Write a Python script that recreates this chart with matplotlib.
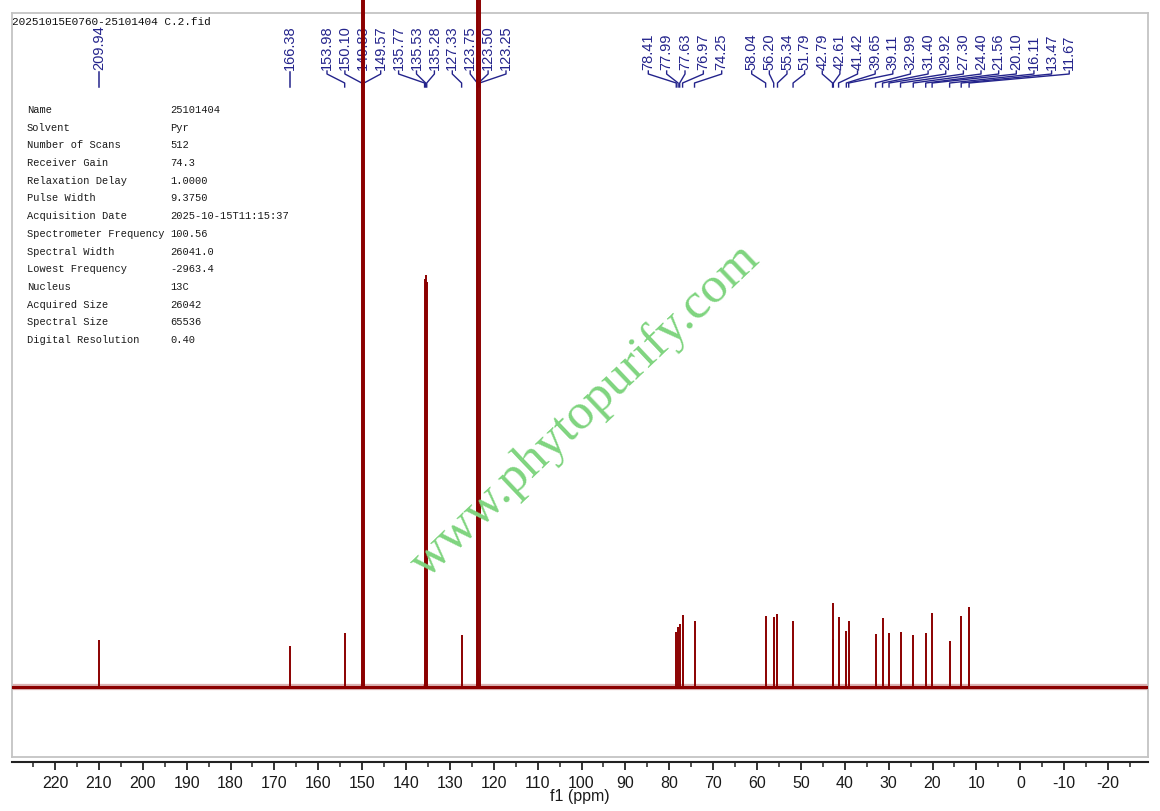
import matplotlib
matplotlib.use("Agg")
import matplotlib.pyplot as plt
from matplotlib.ticker import MultipleLocator

plt.rcParams['axes.unicode_minus'] = False
plt.rcParams['font.family'] = ['Liberation Sans', 'DejaVu Sans']

# ---------------- data ----------------
title = "20251015E0760-25101404 C.2.fid"

shifts = [209.94, 166.38,
          153.98, 150.10, 149.83, 149.57, 135.77, 135.53, 135.28, 127.33, 123.75, 123.50, 123.25,
          78.41, 77.99, 77.63, 76.97, 74.25,
          58.04, 56.20, 55.34, 51.79, 42.79, 42.61, 41.42, 39.65, 39.11, 32.99, 31.40,
          29.92, 27.30, 24.40, 21.56, 20.10, 16.11, 13.47, 11.67]
intensities = [47, 40.6,
               54, 800, 800, 800, 408, 412, 405, 52, 800, 800, 800,
               55, 60, 63, 72, 66,
               71, 70, 73, 66.5, 84, 48, 70, 56.5, 66, 53, 69,
               54, 55, 52, 54, 74, 46.5, 71.5, 80]

solvent_centers = [149.83, 135.53, 123.50]
solvent_base = [23, 13, 21]

param_names = ["Name", "Solvent", "Number of Scans", "Receiver Gain", "Relaxation Delay",
               "Pulse Width", "Acquisition Date", "Spectrometer Frequency", "Spectral Width",
               "Lowest Frequency", "Nucleus", "Acquired Size", "Spectral Size",
               "Digital Resolution"]
param_values = ["25101404", "Pyr", "512", "74.3", "1.0000", "9.3750", "2025-10-15T11:15:37",
                "100.56", "26041.0", "-2963.4", "13C", "26042", "65536", "0.40"]

watermark = "www.phytopurify.com"

# ---------------- layout ----------------
W, H = 1160, 812
XLIM = (229.8, -29.1)
# label groups: (count, first label x in px or None = at peak, spacing px)
label_groups = [(1, None, 0), (1, None, 0), (11, 327.0, 17.9), (5, 648.3, 18.35), (19, 751.7, 17.64)]

SPEC = '#8b0000'
LBL = '#24248c'

fig = plt.figure(figsize=(W / 100, H / 100), dpi=100)
fig.patch.set_facecolor('white')

# overlay for labels (pixel coordinates, y from top)
ov = fig.add_axes([0, 0, 1, 1], zorder=0)
ov.set_xlim(0, W)
ov.set_ylim(H, 0)
ov.axis('off')

# main spectrum axes (the grey frame)
ax = fig.add_axes([12 / W, 1 - 757.5 / H, 1136 / W, 743.5 / H], zorder=1)
ax.set_facecolor('none')
ax.set_xlim(*XLIM)
ax.set_ylim(-69.5, 674)
ax.set_xticks([])
ax.set_yticks([])
for s in ax.spines.values():
    s.set_color('#c4c4c4')
    s.set_linewidth(1.3)

# baseline
ax.axhline(0, color=SPEC, lw=4.5, alpha=0.3, zorder=2)
ax.axhline(0, color=SPEC, lw=2.2, zorder=3)
# solvent pedestals
for c, h in zip(solvent_centers, solvent_base):
    ax.fill([c + 0.5, c, c - 0.5], [0, h, 0], color=SPEC, lw=0, zorder=3)
# peaks
ax.vlines(shifts, 0, intensities, color=SPEC, lw=1.4, zorder=4, clip_on=False)

# bottom ppm axis
ax2 = fig.add_axes([12 / W, 1 - 762.5 / H, 1136 / W, 1 / H], zorder=1)
ax2.set_facecolor('none')
ax2.set_xlim(*XLIM)
ax2.set_yticks([])
for side in ('top', 'left', 'right'):
    ax2.spines[side].set_visible(False)
ax2.spines['bottom'].set_color('#222222')
ax2.spines['bottom'].set_linewidth(1.5)
ax2.xaxis.set_major_locator(MultipleLocator(10))
ax2.xaxis.set_minor_locator(MultipleLocator(5))
ax2.tick_params(axis='x', which='major', direction='out', length=6, width=1.3,
                color='#222222', labelsize=11.5, labelcolor='#1a1a1a', pad=3.5)
ax2.tick_params(axis='x', which='minor', direction='out', length=3.5, width=1.1, color='#222222')
ax2.set_xlabel("f1 (ppm)", fontsize=11.5, color='#1a1a1a', labelpad=-1)

# peak labels with connectors
fig.canvas.draw()
def ppm_to_px(v):
    return ax.transData.transform((v, 0))[0]

i = 0
for count, start, sp in label_groups:
    for k in range(count):
        v = shifts[i]
        px = ppm_to_px(v)
        lx = px if start is None else start + k * sp
        ov.text(lx, 70, f"{v:.2f}", rotation=90, ha='center', va='bottom',
                fontsize=10.5, color=LBL)
        if start is None:
            ov.plot([px, px], [73, 88], color=LBL, lw=1.1)
        else:
            ov.plot([lx, lx, px, px], [72, 75, 84, 88], color=LBL, lw=1.0)
        i += 1

# title and acquisition parameters
ov.text(12.5, 17, title, ha='left', va='top', fontsize=8, family='Liberation Mono', color='#111111')
for r, (n, val) in enumerate(zip(param_names, param_values)):
    y = 110 + r * 17.69
    ov.text(27, y, n, ha='left', va='center', fontsize=7.5, family='Liberation Mono', color='#1a1a1a')
    ov.text(170, y, val, ha='left', va='center', fontsize=7.5, family='Liberation Mono', color='#1a1a1a')

# watermark
fig.text(585 / W, 1 - 411 / H, watermark, rotation=43.5, ha='center', va='center',
         fontsize=37, family='Liberation Serif', color='#7fd47f', zorder=10)

fig.savefig("out.png", dpi=100)
